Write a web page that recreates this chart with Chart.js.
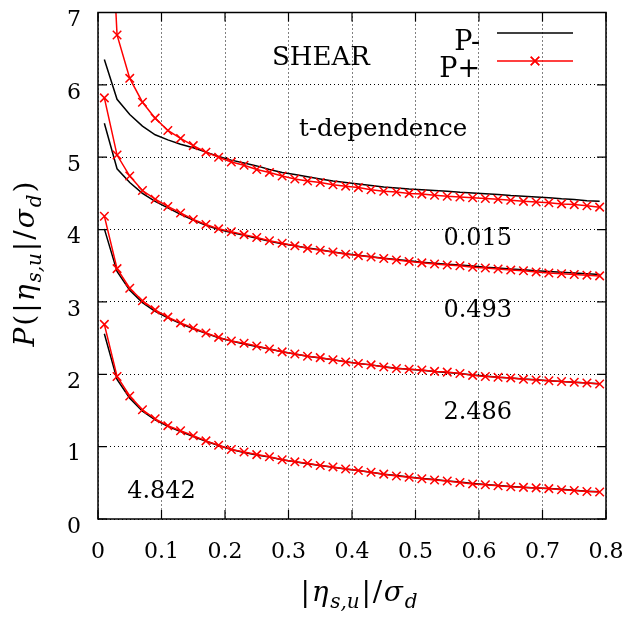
<!DOCTYPE html>
<html>
<head>
<meta charset="utf-8">
<script src="https://cdn.jsdelivr.net/npm/chart.js@4.4.0/dist/chart.umd.min.js"></script>
<style>
    html, body { margin: 0; padding: 0; background: #fff; }
    #wrap { width: 633px; height: 618px; position: relative; }
</style>
</head>
<body>
<div id="wrap"><canvas id="chart"></canvas></div>
<script>
// ===================================
// DATA
// ===================================

const xs = [0.01, 0.03, 0.05, 0.07, 0.09, 0.11, 0.13, 0.15, 0.17, 0.19,
            0.21, 0.23, 0.25, 0.27, 0.29, 0.31, 0.33, 0.35, 0.37, 0.39,
            0.41, 0.43, 0.45, 0.47, 0.49, 0.51, 0.53, 0.55, 0.57, 0.59,
            0.61, 0.63, 0.65, 0.67, 0.69, 0.71, 0.73, 0.75, 0.77, 0.79];

// t = 0.015
const minus1 = [6.35, 5.80, 5.59, 5.43, 5.31, 5.24, 5.18, 5.13, 5.07, 5.01,
                4.96, 4.92, 4.88, 4.83, 4.79, 4.76, 4.73, 4.70, 4.67, 4.65,
                4.63, 4.61, 4.59, 4.575, 4.56, 4.55, 4.54, 4.53, 4.515, 4.505,
                4.495, 4.485, 4.47, 4.46, 4.45, 4.44, 4.425, 4.415, 4.40, 4.39];
const plus1 = [10.2, 6.69, 6.09, 5.76, 5.54, 5.37, 5.26, 5.16, 5.07, 5.00,
               4.935, 4.89, 4.83, 4.79, 4.74, 4.70, 4.67, 4.65, 4.62, 4.60,
               4.58, 4.55, 4.53, 4.52, 4.50, 4.49, 4.475, 4.46, 4.45, 4.44,
               4.43, 4.42, 4.405, 4.39, 4.38, 4.37, 4.355, 4.345, 4.33, 4.31];

// t = 0.493
const minus2 = [5.47, 4.84, 4.65, 4.50, 4.39, 4.30, 4.21, 4.13, 4.06, 4.00,
                3.96, 3.92, 3.88, 3.84, 3.805, 3.775, 3.745, 3.72, 3.69, 3.665,
                3.645, 3.625, 3.605, 3.585, 3.57, 3.55, 3.535, 3.52, 3.51, 3.495,
                3.48, 3.47, 3.455, 3.445, 3.43, 3.42, 3.41, 3.40, 3.39, 3.38];
const plus2 = [5.82, 5.03, 4.74, 4.54, 4.42, 4.32, 4.23, 4.14, 4.07, 4.01,
               3.97, 3.93, 3.89, 3.845, 3.81, 3.775, 3.74, 3.715, 3.69, 3.66,
               3.64, 3.62, 3.60, 3.58, 3.56, 3.54, 3.525, 3.51, 3.50, 3.48,
               3.47, 3.455, 3.44, 3.43, 3.415, 3.40, 3.39, 3.38, 3.37, 3.36];

// t = 2.486
const minus3 = [4.01, 3.42, 3.16, 2.99, 2.87, 2.78, 2.70, 2.63, 2.565, 2.505,
                2.46, 2.42, 2.385, 2.35, 2.31, 2.28, 2.25, 2.225, 2.20, 2.175,
                2.15, 2.13, 2.105, 2.085, 2.07, 2.055, 2.04, 2.025, 2.01, 1.99,
                1.975, 1.96, 1.95, 1.935, 1.925, 1.91, 1.90, 1.89, 1.88, 1.87];
const plus3 = [4.185, 3.46, 3.19, 3.015, 2.89, 2.79, 2.71, 2.64, 2.57, 2.51,
               2.46, 2.43, 2.39, 2.35, 2.31, 2.28, 2.25, 2.23, 2.20, 2.17,
               2.15, 2.13, 2.10, 2.08, 2.07, 2.06, 2.04, 2.03, 2.01, 1.985,
               1.97, 1.96, 1.95, 1.93, 1.92, 1.91, 1.90, 1.89, 1.88, 1.865];

// t = 4.842
const minus4 = [2.56, 1.93, 1.67, 1.49, 1.37, 1.28, 1.21, 1.14, 1.075, 1.015,
                0.96, 0.92, 0.885, 0.855, 0.82, 0.79, 0.765, 0.74, 0.715, 0.69,
                0.67, 0.645, 0.62, 0.60, 0.58, 0.56, 0.545, 0.525, 0.51, 0.49,
                0.477, 0.463, 0.45, 0.44, 0.43, 0.42, 0.41, 0.398, 0.385, 0.375];
const plus4 = [2.69, 1.97, 1.70, 1.51, 1.385, 1.29, 1.22, 1.15, 1.08, 1.02,
               0.96, 0.925, 0.89, 0.86, 0.82, 0.79, 0.77, 0.74, 0.72, 0.69,
               0.67, 0.645, 0.62, 0.595, 0.576, 0.557, 0.54, 0.525, 0.505, 0.485,
               0.474, 0.46, 0.446, 0.437, 0.43, 0.42, 0.405, 0.395, 0.38, 0.373];

const xTicks = [0, 0.1, 0.2, 0.3, 0.4, 0.5, 0.6, 0.7, 0.8];
const yTicks = [0, 1, 2, 3, 4, 5, 6, 7];
const seriesNames = ['P-', 'P+'];
const tValues = ['0.015', '0.493', '2.486', '4.842'];

// ===================================
// LAYOUT / STYLE
// ===================================

const SERIF = "'DejaVu Serif', 'Noto Serif', 'Liberation Serif', FreeSerif, serif";
const RED = '#ff0000';

// text labels placed in data coordinates
const notes = [
    { text: 'SHEAR', x: 0.351, y: 6.27, size: 26 },
    { text: 't-dependence', x: 0.449, y: 5.30, size: 24.5 },
    { text: tValues[0], x: 0.598, y: 3.78, size: 24 },
    { text: tValues[1], x: 0.598, y: 2.79, size: 24 },
    { text: tValues[2], x: 0.598, y: 1.38, size: 24 },
    { text: tValues[3], x: 0.1, y: 0.29, size: 24 }
];

const yTitle = [
    { t: 'P', it: true }, { t: '(' }, { t: '|' }, { t: 'η', it: true },
    { t: 's,u', it: true, sub: true }, { t: '|' }, { t: '/' },
    { t: 'σ', it: true }, { t: 'd', it: true, sub: true }, { t: ')' }
];
const xTitle = [
    { t: '|' }, { t: 'η', it: true }, { t: 's,u', it: true, sub: true },
    { t: '|' }, { t: '/' }, { t: 'σ', it: true }, { t: 'd', it: true, sub: true }
];

function toPoints(ys) {
    return xs.map((x, i) => ({ x: x, y: ys[i] }));
}

function minusSet(ys) {
    return {
        label: seriesNames[0],
        data: toPoints(ys),
        borderColor: '#000',
        borderWidth: 1.5,
        pointRadius: 0,
        order: 2
    };
}

function plusSet(ys) {
    return {
        label: seriesNames[1],
        data: toPoints(ys),
        borderColor: RED,
        borderWidth: 1.5,
        pointStyle: 'crossRot',
        pointRadius: 6,
        pointBorderWidth: 1.5,
        pointBorderColor: RED,
        order: 1
    };
}

// mixed italic / subscript text, spread out to a target width
function drawMath(ctx, parts, cx, baseY, size, targetW) {
    const subSize = Math.round(size * 0.7);
    const fontOf = p => (p.it ? 'italic ' : '') + (p.sub ? subSize : size) + 'px ' + SERIF;
    let natural = 0;
    const widths = parts.map(p => {
        ctx.font = fontOf(p);
        const w = ctx.measureText(p.t).width;
        natural += w;
        return w;
    });
    const gap = Math.max(0, (targetW - natural) / (parts.length - 1));
    let xPos = cx - (natural + gap * (parts.length - 1)) / 2;
    ctx.textAlign = 'left';
    ctx.textBaseline = 'alphabetic';
    parts.forEach((p, i) => {
        ctx.font = fontOf(p);
        ctx.fillText(p.t, xPos, baseY + (p.sub ? size * 0.24 : 0));
        xPos += widths[i] + gap;
    });
}

const gnuplotDecor = {
    id: 'gnuplotDecor',
    afterDraw(chart) {
        const { ctx, chartArea: a } = chart;
        const xs_ = chart.scales.x;
        const ys_ = chart.scales.y;
        ctx.save();

        // frame
        ctx.strokeStyle = '#000';
        ctx.lineWidth = 1.5;
        ctx.strokeRect(a.left, a.top, a.right - a.left, a.bottom - a.top);

        // inward tick marks on all four sides
        const tl = 9;
        ctx.lineWidth = 1.2;
        ctx.beginPath();
        xTicks.forEach(v => {
            const px = xs_.getPixelForValue(v);
            ctx.moveTo(px, a.bottom); ctx.lineTo(px, a.bottom - tl);
            ctx.moveTo(px, a.top); ctx.lineTo(px, a.top + tl);
        });
        yTicks.forEach(v => {
            const py = ys_.getPixelForValue(v);
            ctx.moveTo(a.left, py); ctx.lineTo(a.left + tl, py);
            ctx.moveTo(a.right, py); ctx.lineTo(a.right - tl, py);
        });
        ctx.stroke();

        // text notes
        ctx.fillStyle = '#000';
        ctx.textAlign = 'center';
        ctx.textBaseline = 'alphabetic';
        notes.forEach(n => {
            ctx.font = n.size + 'px ' + SERIF;
            ctx.fillText(n.text, xs_.getPixelForValue(n.x), ys_.getPixelForValue(n.y));
        });

        // legend (text right of a sample line, gnuplot style)
        const ds = chart.data.datasets;
        const legendRows = [
            { set: ds[1], textY: 50, lineY: 33 },
            { set: ds[0], textY: 77, lineY: 61 }
        ];
        legendRows.forEach(r => {
            ctx.font = '27px ' + SERIF;
            ctx.textAlign = 'right';
            ctx.fillStyle = '#000';
            ctx.fillText(r.set.label, 480, r.textY);
            ctx.strokeStyle = r.set.borderColor;
            ctx.lineWidth = r.set.borderWidth;
            ctx.beginPath();
            ctx.moveTo(497, r.lineY); ctx.lineTo(573, r.lineY);
            ctx.stroke();
            if (r.set.pointRadius > 0) {
                Chart.helpers.drawPoint(ctx, {
                    pointStyle: r.set.pointStyle,
                    radius: r.set.pointRadius,
                    borderWidth: r.set.pointBorderWidth,
                    rotation: 0
                }, 535, r.lineY);
                ctx.stroke();
            }
        });

        // axis titles
        ctx.fillStyle = '#000';
        drawMath(ctx, xTitle, 359, 601, 28, 117);
        ctx.translate(34, 264);
        ctx.rotate(-Math.PI / 2);
        drawMath(ctx, yTitle, 0, 0, 28, 165);

        ctx.restore();
    }
};

// ===================================
// CHART
// ===================================

const chart = new Chart(document.getElementById('chart').getContext('2d'), {
    type: 'line',
    data: {
        datasets: [
            plusSet(plus1), minusSet(minus1),
            plusSet(plus2), minusSet(minus2),
            plusSet(plus3), minusSet(minus3),
            plusSet(plus4), minusSet(minus4)
        ]
    },
    options: {
        responsive: true,
        maintainAspectRatio: false,
        animation: false,
        layout: { padding: { top: 12.5, right: 27, left: 0, bottom: 0 } },
        plugins: {
            legend: { display: false },
            tooltip: { enabled: false }
        },
        elements: { line: { tension: 0 } },
        scales: {
            x: {
                type: 'linear',
                min: 0,
                max: 0.8,
                afterBuildTicks: s => { s.ticks = xTicks.map(v => ({ value: v })); },
                afterFit: s => { s.height = 99; s.paddingLeft = 0; s.paddingRight = 0; },
                ticks: {
                    color: '#000',
                    font: { family: SERIF, size: 22 },
                    padding: 20,
                    maxRotation: 0,
                    autoSkip: false,
                    callback: v => String(v)
                },
                grid: { color: '#000', lineWidth: 1, drawTicks: false },
                border: { display: false, dash: [1, 3] }
            },
            y: {
                type: 'linear',
                min: 0,
                max: 7,
                afterBuildTicks: s => { s.ticks = yTicks.map(v => ({ value: v })); },
                afterFit: s => { s.width = 98; s.paddingTop = 0; s.paddingBottom = 0; },
                ticks: {
                    color: '#000',
                    font: { family: SERIF, size: 22 },
                    padding: 17,
                    labelOffset: 8,
                    autoSkip: false,
                    callback: v => String(v)
                },
                grid: { color: '#000', lineWidth: 1, drawTicks: false },
                border: { display: false, dash: [1, 3] }
            }
        }
    },
    plugins: [gnuplotDecor]
});
</script>
</body>
</html>
